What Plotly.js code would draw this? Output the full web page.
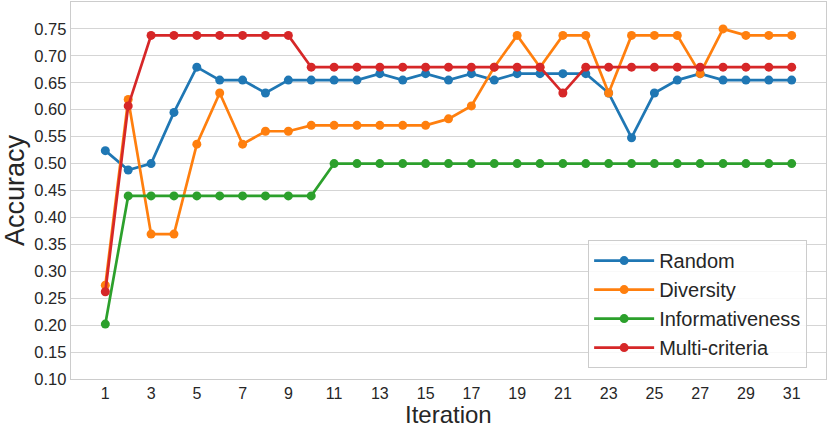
<!DOCTYPE html>
<html>
<head>
<meta charset="utf-8">
<script src="https://cdn.plot.ly/plotly-3.0.1.min.js"></script>
<style>html,body{margin:0;padding:0;background:#fff;}#chart{width:830px;height:427px;}</style>
</head>
<body>
<div id="chart"></div>
<script>
var iterations = [];
for (var i = 1; i <= 31; i++) iterations.push(i);

var seriesNames = ["Random", "Diversity", "Informativeness", "Multi-criteria"];
var seriesColors = ["#1f77b4", "#ff7f0e", "#2ca02c", "#d62728"];

var randomAcc = [0.524, 0.488, 0.500, 0.595, 0.679, 0.655, 0.655, 0.631, 0.655, 0.655,
                 0.655, 0.655, 0.667, 0.655, 0.667, 0.655, 0.667, 0.655, 0.667, 0.667,
                 0.667, 0.667, 0.631, 0.548, 0.631, 0.655, 0.667, 0.655, 0.655, 0.655, 0.655];
var diversityAcc = [0.274, 0.619, 0.369, 0.369, 0.536, 0.631, 0.536, 0.560, 0.560, 0.571,
                    0.571, 0.571, 0.571, 0.571, 0.571, 0.583, 0.607, 0.679, 0.738, 0.679,
                    0.738, 0.738, 0.631, 0.738, 0.738, 0.738, 0.667, 0.750, 0.738, 0.738, 0.738];
var informativenessAcc = [0.202, 0.440, 0.440, 0.440, 0.440, 0.440, 0.440, 0.440, 0.440, 0.440,
                          0.500, 0.500, 0.500, 0.500, 0.500, 0.500, 0.500, 0.500, 0.500, 0.500,
                          0.500, 0.500, 0.500, 0.500, 0.500, 0.500, 0.500, 0.500, 0.500, 0.500, 0.500];
var multiAcc = [0.262, 0.607, 0.738, 0.738, 0.738, 0.738, 0.738, 0.738, 0.738, 0.679,
                0.679, 0.679, 0.679, 0.679, 0.679, 0.679, 0.679, 0.679, 0.679, 0.679,
                0.631, 0.679, 0.679, 0.679, 0.679, 0.679, 0.679, 0.679, 0.679, 0.679, 0.679];

var xTickVals = [1,3,5,7,9,11,13,15,17,19,21,23,25,27,29,31];
var yTickVals = [0.10,0.15,0.20,0.25,0.30,0.35,0.40,0.45,0.50,0.55,0.60,0.65,0.70,0.75];

var allSeries = [randomAcc, diversityAcc, informativenessAcc, multiAcc];
var traces = allSeries.map(function (vals, k) {
  return {
    x: iterations, y: vals, name: seriesNames[k], type: "scatter", mode: "lines+markers",
    line: {color: seriesColors[k], width: 2.7},
    marker: {color: seriesColors[k], size: 9}
  };
});

var fontFam = "Liberation Sans, Arial, sans-serif";
var layout = {
  width: 830, height: 427,
  margin: {l: 71, r: 4, t: 2, b: 48},
  paper_bgcolor: "#ffffff", plot_bgcolor: "#ffffff",
  font: {family: fontFam, color: "#262626"},
  showlegend: true,
  legend: {
    x: 0.975, y: 0.029, xanchor: "right", yanchor: "bottom",
    bgcolor: "rgba(255,255,255,0.85)", bordercolor: "#cccccc", borderwidth: 1,
    font: {size: 20, family: fontFam, color: "#262626"},
    itemwidth: 60
  },
  xaxis: {
    range: [-0.5, 32.5], tickmode: "array", tickvals: xTickVals,
    showgrid: false, zeroline: false, showline: true, linecolor: "#cccccc", linewidth: 1.25,
    mirror: true, ticks: "", tickfont: {size: 16, family: fontFam, color: "#262626"}
  },
  yaxis: {
    range: [0.1, 0.8], tickmode: "array", tickvals: yTickVals, tickformat: ".2f",
    showgrid: true, gridcolor: "#d5d5d5", gridwidth: 1.1, zeroline: false,
    showline: true, linecolor: "#cccccc", linewidth: 1.25, mirror: true, ticks: "",
    tickfont: {size: 16.5, family: fontFam, color: "#262626"},
    title: {text: "Accuracy", font: {size: 27, family: fontFam, color: "#262626"}, standoff: 6}
  },
  annotations: [{
    text: "Iteration", xref: "paper", yref: "paper", x: 0.5, y: -0.093,
    xanchor: "center", yanchor: "middle", showarrow: false, borderpad: 0,
    font: {size: 24, family: fontFam, color: "#262626"}
  }]
};

Plotly.newPlot("chart", traces, layout, {displayModeBar: false, staticPlot: true});
</script>
</body>
</html>
